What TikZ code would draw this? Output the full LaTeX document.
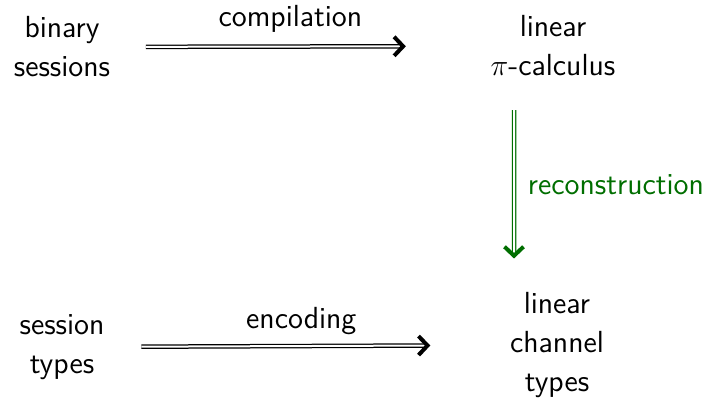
\documentclass[tikz,border=0pt]{standalone}
\usepackage{tikz}
\usetikzlibrary{arrows.meta}
\renewcommand{\familydefault}{\sfdefault}
\definecolor{recgreen}{RGB}{0,110,0}

\begin{document}
\begin{tikzpicture}[x=0.4pt, y=-0.4pt,
		every node/.style={font=\fontsize{12.2}{15.6}\selectfont, align=center},
		impl/.style={double, double distance=0.8pt, line width=0.5pt,
			-{Straight Barb[line width=1.6pt, length=3.6pt, width=7.6pt]}}]
				\useasboundingbox (0,0) rectangle (706,401);
				\node (BS)at(62, 47) {binary\\sessions};
				\node (LP)at(553, 46) {linear\\$\pi$-calculus};
				\node (ST)at(62, 347) {session\\types};
				\node (LCT)at(557, 345) {linear\\channel\\types};
				\draw[impl, shorten <=10.8pt, shorten >=30.4pt] (BS) -- (LP) node[midway, above, xshift=-4pt, yshift=2pt] {compilation};
				\draw[impl, shorten <=11.2pt, shorten >=28.4pt] (ST) -- (LCT) node[midway, above, xshift=-2.4pt, yshift=1pt] {encoding};
				\draw[impl, recgreen, shorten <=10pt, shorten >=10pt] ([xshift=-15.6pt]LP.south) -- ([xshift=-17.2pt]LCT.north) node[midway, right, xshift=2pt] {reconstruction};
			\end{tikzpicture}
\end{document}
